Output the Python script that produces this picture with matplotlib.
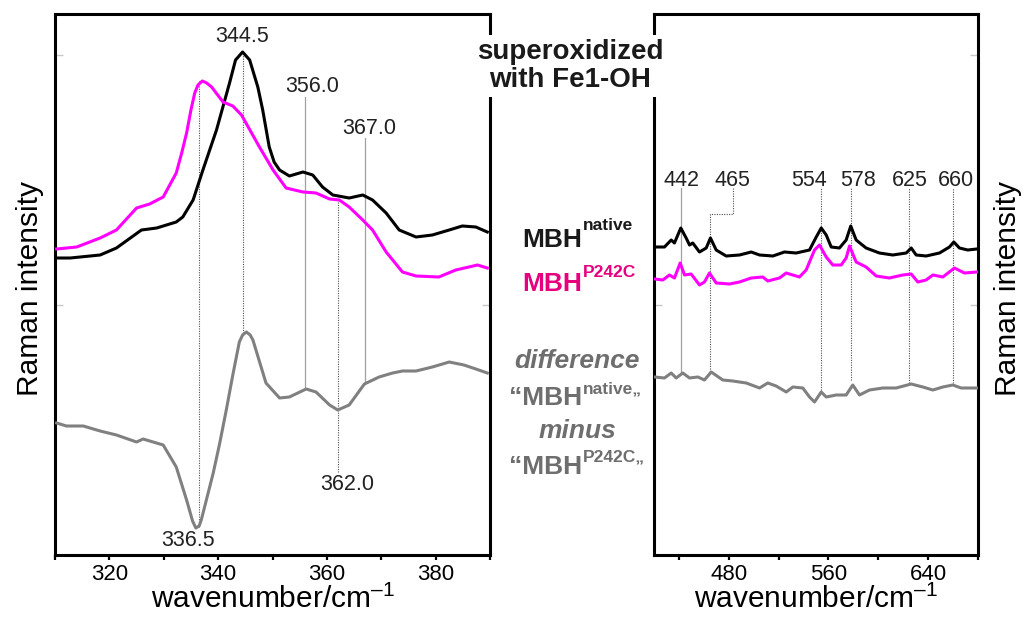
import matplotlib
matplotlib.use("Agg")
import matplotlib.pyplot as plt
from matplotlib.ticker import FixedLocator

plt.rcParams['font.family'] = ['Liberation Sans', 'DejaVu Sans']
plt.rcParams['mathtext.fontset'] = 'custom'
plt.rcParams['mathtext.rm'] = 'Liberation Sans'
plt.rcParams['mathtext.it'] = 'Liberation Sans:italic'
plt.rcParams['mathtext.bf'] = 'Liberation Sans:bold'

# ---------------- data: left panel (low-frequency region) ----------------
left_native_x = [310.3, 312.8, 318.3, 321.3, 325.9, 328.7, 332.3, 333.5, 335.4, 337.2, 339.7, 342.1,
                 343.2, 344.5, 345.8, 347.3, 348.2, 349.4, 350.3, 351.3, 353.1, 355.6, 357.4, 359.2,
                 361.1, 364.1, 366.6, 368.4, 370.9, 373.3, 376.4, 379.4, 382.5, 384.9, 387.4, 389.5]
left_native_y = [2.97, 2.97, 3.00, 3.07, 3.25, 3.27, 3.33, 3.38, 3.55, 3.85, 4.25, 4.72,
                 4.95, 5.03, 4.95, 4.68, 4.45, 4.08, 3.93, 3.85, 3.79, 3.83, 3.80, 3.68,
                 3.60, 3.57, 3.60, 3.55, 3.42, 3.25, 3.18, 3.20, 3.25, 3.29, 3.28, 3.23]

left_mut_x = [310.3, 314.0, 318.3, 321.3, 325.0, 327.4, 329.9, 332.3, 333.3, 334.2, 335.0, 335.7,
              336.3, 337.1, 337.9, 338.8, 340.9, 342.7, 344.3, 347.6, 350.1, 352.5, 355.6, 358.0,
              360.5, 362.3, 364.1, 366.6, 368.4, 370.9, 373.9, 376.4, 380.6, 383.7, 387.7, 389.5]
left_mut_y = [3.06, 3.08, 3.17, 3.25, 3.47, 3.51, 3.58, 3.82, 4.02, 4.22, 4.45, 4.62,
              4.70, 4.74, 4.72, 4.68, 4.53, 4.49, 4.40, 4.08, 3.85, 3.67, 3.63, 3.62,
              3.56, 3.55, 3.48, 3.35, 3.25, 3.03, 2.83, 2.79, 2.78, 2.85, 2.90, 2.87]

left_diff_x = [310.3, 312.1, 315.2, 318.3, 321.3, 325.0, 326.2, 329.9, 332.3, 334.2, 335.3, 335.9,
               336.5, 336.9, 339.1, 340.3, 341.5, 342.7, 343.9, 344.5, 345.2, 345.9, 346.4, 348.8,
               351.3, 353.1, 356.2, 358.0, 360.5, 362.0, 364.1, 366.9, 369.6, 372.1, 373.9, 376.4,
               379.4, 382.5, 385.2, 387.4, 389.5]
left_diff_y = [1.32, 1.29, 1.29, 1.24, 1.20, 1.13, 1.16, 1.10, 0.88, 0.55, 0.34, 0.27,
               0.29, 0.35, 0.82, 1.12, 1.45, 1.80, 2.13, 2.20, 2.23, 2.20, 2.15, 1.72,
               1.57, 1.58, 1.66, 1.63, 1.50, 1.45, 1.50, 1.71, 1.78, 1.82, 1.84, 1.84,
               1.88, 1.93, 1.90, 1.86, 1.82]

# peak marks: position, label, top of line, bottom of line, style
left_peaks = [336.5, 344.5, 356.0, 362.0, 367.0]
left_peak_labels = ["336.5", "344.5", "356.0", "362.0", "367.0"]
left_peak_top = [4.74, 5.03, 4.58, 3.55, 4.17]
left_peak_bottom = [0.28, 2.22, 1.66, 0.83, 1.71]
left_peak_solid = [False, False, True, False, True]
left_label_pos = [(334.4, 0.15), (344.5, 5.18), (357.3, 4.68), (363.7, 0.71), (367.8, 4.26)]

# ---------------- data: right panel (high-frequency region) ----------------
right_native_x = [420.4, 428.4, 433.8, 436.4, 441.5, 445.8, 448.5, 451.1, 456.5, 461.9, 465.3, 469.9,
                  477.9, 488.6, 498.0, 504.7, 515.4, 524.7, 534.1, 544.8, 550.2, 554.2, 558.2, 562.2,
                  568.8, 574.2, 577.9, 582.2, 590.2, 600.9, 611.6, 622.4, 626.4, 630.4, 638.4, 649.1,
                  657.1, 660.6, 665.1, 671.8, 679.0]
right_native_y = [3.08, 3.08, 3.15, 3.12, 3.27, 3.17, 3.10, 3.12, 3.03, 3.07, 3.17, 3.05,
                  2.99, 3.00, 3.03, 3.00, 2.99, 3.03, 3.02, 3.05, 3.18, 3.27, 3.20, 3.08,
                  3.07, 3.15, 3.29, 3.15, 3.07, 3.02, 3.00, 3.02, 3.07, 3.00, 2.99, 3.02,
                  3.08, 3.13, 3.07, 3.05, 3.06]

right_mut_x = [420.4, 427.1, 432.4, 436.4, 441.0, 444.5, 449.8, 456.5, 460.5, 464.5, 469.9, 480.6,
               488.6, 498.0, 507.3, 511.3, 520.7, 526.1, 536.7, 542.1, 548.8, 552.8, 558.2, 563.5,
               570.2, 574.2, 576.9, 582.2, 590.2, 598.3, 608.9, 619.6, 626.4, 631.7, 638.4, 643.8,
               651.8, 661.1, 669.1, 679.0]
right_mut_y = [2.76, 2.75, 2.80, 2.77, 2.92, 2.80, 2.81, 2.70, 2.73, 2.82, 2.72, 2.71,
               2.73, 2.77, 2.78, 2.74, 2.77, 2.82, 2.78, 2.85, 3.05, 3.10, 2.98, 2.90,
               2.90, 2.97, 3.09, 2.93, 2.88, 2.79, 2.77, 2.80, 2.81, 2.73, 2.75, 2.80,
               2.78, 2.87, 2.82, 2.83]

right_diff_x = [420.4, 428.4, 433.8, 437.8, 443.1, 448.5, 455.2, 460.5, 465.9, 475.2, 483.2, 494.0,
                504.7, 511.3, 518.0, 526.1, 531.4, 539.4, 544.8, 548.8, 554.2, 558.2, 566.2, 574.2,
                579.5, 584.9, 592.9, 603.6, 614.3, 626.4, 635.7, 643.8, 651.8, 659.8, 666.5, 679.0]
right_diff_y = [1.78, 1.77, 1.82, 1.77, 1.82, 1.77, 1.78, 1.75, 1.83, 1.75, 1.74, 1.72,
                1.67, 1.72, 1.69, 1.63, 1.68, 1.67, 1.58, 1.53, 1.63, 1.58, 1.60, 1.60,
                1.70, 1.60, 1.65, 1.67, 1.67, 1.71, 1.68, 1.65, 1.68, 1.70, 1.67, 1.67]

right_peaks = [442, 465, 554, 578, 625, 660]
right_peak_labels = ["442", "465", "554", "578", "625", "660"]
right_peak_bottom = [1.83, 1.83, 1.65, 1.75, 1.72, 1.72]
right_peak_solid = [True, False, False, False, False, False]
right_peak_elbow = [False, True, False, False, False, False]
right_label_x = [441.9, 483.0, 544.8, 583.5, 625.0, 662.5]
right_label_y = 3.74
right_line_top = 3.67

# ---------------- styling ----------------
C_NAT = '#000000'
C_MUT = '#FF00FF'
C_DIFF = '#808080'
C_MUT_TXT = '#E6007E'
C_DIFF_TXT = '#6E6E6E'
LW = 2.2
SPINE_LW = 2.2
FS_TICK = 16
FS_LAB = 21.5
FS_PEAK = 15.5

fig = plt.figure(figsize=(10.26, 6.18), dpi=100)
axL = fig.add_axes([55/1026, 1-555/618, 435/1026, 541/618])
axR = fig.add_axes([654/1026, 1-555/618, 324/1026, 541/618])

for ax in (axL, axR):
    for s in ax.spines.values():
        s.set_linewidth(SPINE_LW)
    ax.set_ylim(0, 5.41)
    ax.set_yticks([2.5, 5.0])
    ax.tick_params(axis='y', which='both', direction='in', length=6, width=1.0,
                   color='#c8c8c8', left=True, right=True, labelleft=False, labelright=False)
    ax.tick_params(axis='x', which='both', direction='out', length=3.5, width=1.6,
                   labelsize=FS_TICK, pad=3)
    ax.set_xlabel('wavenumber/cm$^{\\mathregular{\u2013}1}$', fontsize=FS_LAB, labelpad=0)

DOT = (0, (1, 1.2))

# left panel
axL.set_xlim(310, 390)
axL.xaxis.set_major_locator(FixedLocator([320, 340, 360, 380]))
axL.xaxis.set_minor_locator(FixedLocator([310, 330, 350, 370, 390]))
axL.plot(left_native_x, left_native_y, color=C_NAT, lw=LW, zorder=3, solid_joinstyle='round')
axL.plot(left_mut_x, left_mut_y, color=C_MUT, lw=LW, zorder=3, solid_joinstyle='round')
axL.plot(left_diff_x, left_diff_y, color=C_DIFF, lw=LW, zorder=3, solid_joinstyle='round')
for p, lab, t, b, solid, (lx, ly) in zip(left_peaks, left_peak_labels, left_peak_top,
                                         left_peak_bottom, left_peak_solid, left_label_pos):
    if solid:
        axL.plot([p, p], [b, t], color='#a0a0a0', lw=0.9, zorder=2)
    else:
        axL.plot([p, p], [b, t], color='#505050', lw=0.8, ls=DOT, zorder=2)
    axL.text(lx, ly, lab, fontsize=FS_PEAK, ha='center', va='center', color='#222222')

# right panel
axR.set_xlim(420, 680)
axR.xaxis.set_major_locator(FixedLocator([480, 560, 640]))
axR.xaxis.set_minor_locator(FixedLocator([440, 520, 600, 680]))
axR.plot(right_native_x, right_native_y, color=C_NAT, lw=LW, zorder=3, solid_joinstyle='round')
axR.plot(right_mut_x, right_mut_y, color=C_MUT, lw=LW, zorder=3, solid_joinstyle='round')
axR.plot(right_diff_x, right_diff_y, color=C_DIFF, lw=LW, zorder=3, solid_joinstyle='round')
for p, lab, b, solid, elbow, lx in zip(right_peaks, right_peak_labels, right_peak_bottom,
                                      right_peak_solid, right_peak_elbow, right_label_x):
    if solid:
        axR.plot([p, p], [b, right_line_top], color='#a0a0a0', lw=0.9, zorder=2)
    elif elbow:
        axR.plot([lx, lx, p, p], [right_line_top, 3.41, 3.41, b], color='#505050',
                 lw=0.8, ls=DOT, zorder=2)
    else:
        axR.plot([p, p], [b, right_line_top], color='#505050', lw=0.8, ls=DOT, zorder=2)
    axR.text(lx, right_label_y, lab, fontsize=FS_PEAK, ha='center', va='center', color='#222222')

# y labels
fig.text(30/1026, 1-289/618, 'Raman intensity', rotation=90, fontsize=FS_LAB,
         ha='center', va='center')
fig.text(1008/1026, 1-288/618, 'Raman intensity', rotation=90, fontsize=FS_LAB,
         ha='center', va='center')

# middle annotations
fig.text(570/1026, 1-66/618, 'superoxidized\nwith Fe1-OH', fontsize=20, fontweight='bold',
         ha='center', va='center', color='#1a1a1a', linespacing=1.1,
         bbox=dict(facecolor='white', edgecolor='none', pad=3))

SPLIT = 582/1026
FS_MAIN = 19
FS_SUP = 12.5

def label_pair(main, sup, y_main, y_sup, color):
    fig.text(SPLIT, 1-y_main/618, main, fontsize=FS_MAIN, fontweight='bold', color=color,
             ha='right', va='baseline')
    fig.text(SPLIT + 1/1026, 1-y_sup/618, sup, fontsize=FS_SUP, fontweight='bold', color=color,
             ha='left', va='baseline')

label_pair('MBH', 'native', 247, 230, '#1a1a1a')
label_pair('MBH', 'P242C', 291, 277, C_MUT_TXT)
fig.text(577/1026, 1-368/618, 'difference', fontsize=FS_MAIN, fontweight='bold', style='italic',
         color=C_DIFF_TXT, ha='center', va='baseline')
label_pair('\u201cMBH', 'native\u201e', 405, 393, C_DIFF_TXT)
fig.text(577/1026, 1-438/618, 'minus', fontsize=FS_MAIN, fontweight='bold', style='italic',
         color=C_DIFF_TXT, ha='center', va='baseline')
label_pair('\u201cMBH', 'P242C\u201e', 474, 462, C_DIFF_TXT)

fig.savefig('out.png', dpi=100)
